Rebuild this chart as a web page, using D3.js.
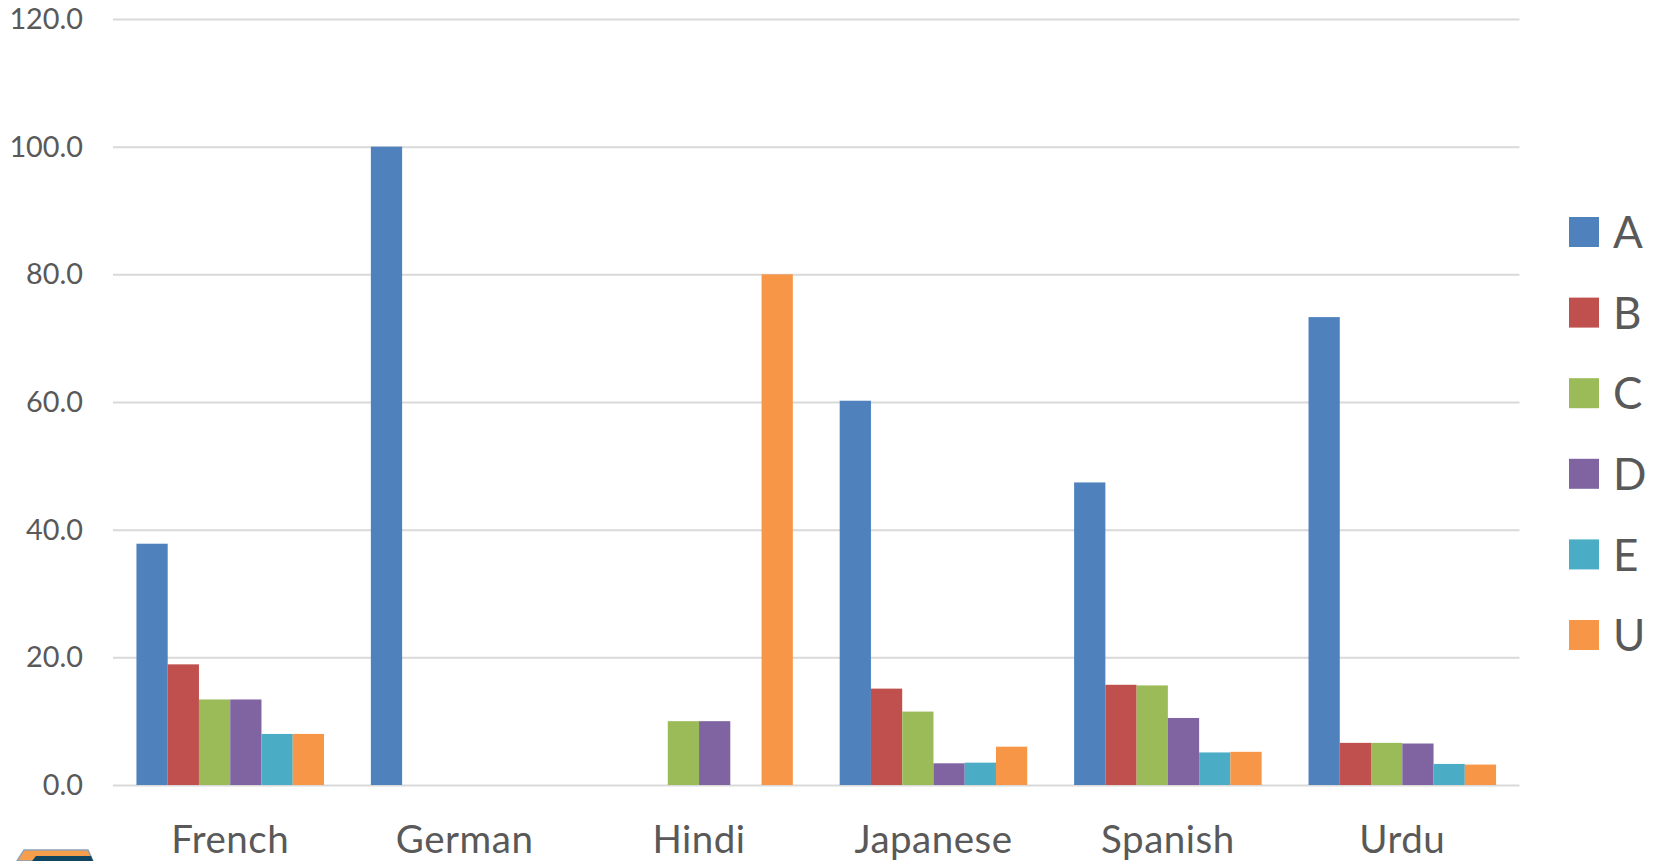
<!DOCTYPE html>
<html>
<head>
<meta charset="utf-8">
<script src="https://cdn.jsdelivr.net/npm/d3@7"></script>
<style>
html, body { margin: 0; padding: 0; background: #fff; overflow: hidden; }
text { font-family: "Lato", sans-serif; fill: #595959; }
.domain { display: none; }
</style>
</head>
<body>
<div id="chart"></div>
<script>
const languages = ["French", "German", "Hindi", "Japanese", "Spanish", "Urdu"];
const series_names = ["A", "B", "C", "D", "E", "U"];
const series_colors = ["#4f81bd", "#c0504d", "#9bbb59", "#8064a2", "#4bacc6", "#f79646"];
const y_ticks = [0, 20, 40, 60, 80, 100, 120];

// one row per series, same order as languages. null = no bar
const values_a = [37.8, 100, null, 60.2, 47.4, 73.3];
const values_b = [18.9, null, null, 15.1, 15.7, 6.6];
const values_c = [13.4, null, 10, 11.5, 15.6, 6.6];
const values_d = [13.4, null, 10, 3.4, 10.5, 6.5];
const values_e = [8, null, null, 3.5, 5.1, 3.3];
const values_u = [8, null, 80, 6, 5.2, 3.2];
const all_values = [values_a, values_b, values_c, values_d, values_e, values_u];

const width = 1657, height = 861;
const left = 113, right = 1519.5, top_y = 19, bottom_y = 785;

const svg = d3.select("#chart").append("svg")
    .attr("width", width)
    .attr("height", height)
    .style("display", "block");

const x0 = d3.scaleBand().domain(languages).range([left, right])
    .paddingInner(0.2).paddingOuter(0.1);
const x1 = d3.scaleBand().domain(series_names).range([0, x0.bandwidth()]);
const y = d3.scaleLinear().domain([0, 120]).range([bottom_y, top_y]);

// gridlines and y labels
const y_axis = svg.append("g")
    .attr("transform", "translate(" + left + ",0)")
    .call(d3.axisLeft(y).tickValues(y_ticks).tickFormat(d3.format(".1f"))
        .tickSize(-(right - left)).tickPadding(30));
y_axis.selectAll("line").attr("stroke", "#d9d9d9").attr("stroke-width", 2);
y_axis.selectAll("text").attr("font-size", 28.8).attr("dy", "0.33em");

// x labels, baseline set through the padding
const x_axis = svg.append("g")
    .attr("transform", "translate(0," + bottom_y + ")")
    .call(d3.axisBottom(x0).tickSize(0).tickPadding(67.5));
x_axis.selectAll("text")
    .attr("font-size", 38.5)
    .attr("letter-spacing", 0.5)
    .attr("dy", 0);

// bars
series_names.forEach(function(name, s) {
    svg.append("g").selectAll("rect")
        .data(all_values[s].map((v, i) => ({lang: languages[i], v: v})).filter(d => d.v !== null))
        .enter()
        .append("rect")
        .attr("x", d => x0(d.lang) + x1(name))
        .attr("width", x1.bandwidth())
        .attr("y", d => y(d.v))
        .attr("height", d => y(0) - y(d.v))
        .attr("fill", series_colors[s]);
});

// legend
const legend_y = d3.scalePoint().domain(series_names).range([232, 635]);
const legend = svg.append("g").selectAll("g")
    .data(series_names)
    .enter()
    .append("g")
    .attr("transform", d => "translate(1569," + legend_y(d) + ")");
legend.append("rect")
    .attr("y", -15)
    .attr("width", 30)
    .attr("height", 30)
    .attr("fill", (d, i) => series_colors[i]);
legend.append("text")
    .attr("x", 44)
    .attr("dy", "0.37em")
    .attr("font-size", 44)
    .text(d => d);

// logo at the bottom left, cut off by the edge of the picture
svg.append("path")
    .attr("d", "M17,861 L24,850 L88,850 L93,861 Z")
    .attr("fill", "#f79e4d")
    .attr("stroke", "#8fa3b5")
    .attr("stroke-width", 1.5);
svg.append("path")
    .attr("d", "M32,861 L36,856 L91,856 L93,861 Z")
    .attr("fill", "#0f4560");
</script>
</body>
</html>
